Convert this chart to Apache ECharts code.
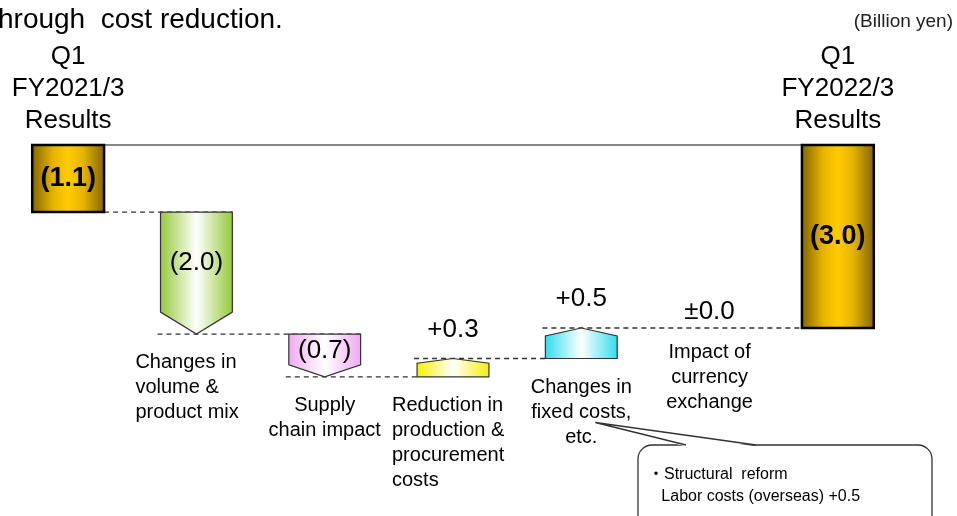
<!DOCTYPE html>
<html><head><meta charset="utf-8">
<script src="https://cdn.jsdelivr.net/npm/echarts/dist/echarts.min.js"></script>
<style>html,body{margin:0;padding:0;background:#fff;overflow:hidden}#c{width:957px;height:516px}</style>
</head><body><div id="c"></div>
<script>
// ---- data ----
const categories = ['Q1\nFY2021/3\nResults', 'Changes in\nvolume &\nproduct mix', 'Supply\nchain impact',
  'Reduction in\nproduction &\nprocurement\ncosts', 'Changes in\nfixed costs,\netc.',
  'Impact of\ncurrency\nexchange', 'Q1\nFY2022/3\nResults'];
const values = [-1.1, -2.0, -0.7, 0.3, 0.5, 0.0, -3.0];
const kinds = ['total', 'delta', 'delta', 'delta', 'delta', 'delta', 'total'];
const valueLabels = ['(1.1)', '(2.0)', '(0.7)', '+0.3', '+0.5', '\u00b10.0', '(3.0)'];
const titleText = 'hrough  cost reduction.';
const unitText = '(Billion yen)';
const noteLines = ['\u30fbStructural  reform', '   Labor costs (overseas) +0.5'];

// ---- styles (not data) ----
const FONT = "'Liberation Sans', Arial, 'Noto Sans CJK JP', sans-serif";
function hgrad(edge, mid) {
  return { type: 'linear', x: 0, y: 0, x2: 1, y2: 0,
    colorStops: [{offset: 0, color: edge}, {offset: 0.5, color: mid}, {offset: 1, color: edge}] };
}
const goldFill = { type: 'linear', x: 0, y: 0, x2: 1, y2: 0, colorStops: [
  {offset: 0, color: '#806200'}, {offset: 0.3, color: '#e6b400'}, {offset: 0.5, color: '#ffcc00'},
  {offset: 0.7, color: '#e6b400'}, {offset: 1, color: '#806200'}] };
const deltaFills = [null, hgrad('#95c83a', '#ffffff'), hgrad('#f0a8f0', '#ffffff'),
  hgrad('#f5f000', '#ffffff'), hgrad('#30dcec', '#ffffff'), null, null];
const leftAligned = { 1: true, 3: true };

// running waterfall start / end
let run = 0;
const wf = values.map((v, i) => {
  let s, e;
  if (kinds[i] === 'total') { s = 0; e = v; } else { s = run; e = run + v; }
  run = e;
  return [i, s, e];
});

const chart = echarts.init(document.getElementById('c'), null, { renderer: 'canvas' });

function renderItem(params, api) {
  const i = api.value(0), s = api.value(1), e = api.value(2);
  const pS = api.coord([i, s]), pE = api.coord([i, e]);
  const cx = pS[0];
  const band = api.size([1, 0])[0];
  const bw = band * 0.56;
  const x0 = cx - bw / 2, x1 = cx + bw / 2;
  const top = Math.min(pS[1], pE[1]), bot = Math.max(pS[1], pE[1]);
  const len = bot - top;
  const ch = [];
  const n = wf.length;
  // connectors
  if (i === 0) {
    const z0 = api.coord([0, 0]);
    const lastL = api.coord([n - 1, 0])[0] - bw / 2;
    ch.push({ type: 'line', shape: { x1: x0, y1: z0[1], x2: lastL, y2: z0[1] },
      style: { stroke: '#111', lineWidth: 1.2 } });
  }
  if (i < n - 1) {
    let j = i + 1;
    while (j < n - 1 && Math.abs(values[j]) < 1e-9) j++;
    const pn = api.coord([j, e]);
    const nL = pn[0] - bw / 2, nR = pn[0] + bw / 2;
    if (!(kinds[i] === 'delta' && Math.abs(values[i]) < 1e-9)) {
      const sx = kinds[i] === 'total' ? x1 : x0 - 3;
      const ex = (kinds[j] === 'delta' && values[j] < 0) ? nR : nL;
      ch.push({ type: 'line', shape: { x1: sx, y1: pE[1], x2: ex, y2: pE[1] },
        style: { stroke: '#333', lineWidth: 1.3, lineDash: [5, 4] } });
    }
  }
  // shapes & value labels
  if (kinds[i] === 'total') {
    ch.push({ type: 'rect', shape: { x: x0, y: top, width: bw, height: len },
      style: { fill: goldFill, stroke: '#000', lineWidth: 2.5 } });
    ch.push({ type: 'text', style: { text: valueLabels[i], x: cx, y: (top + bot) / 2,
      align: 'center', verticalAlign: 'middle', font: 'bold 27px ' + FONT, fill: '#000' } });
    ch.push({ type: 'text', style: { text: categories[i], x: cx, y: api.coord([i, 0])[1] - 8,
      align: 'center', verticalAlign: 'bottom', font: '26px ' + FONT, lineHeight: 32, fill: '#000' } });
  } else {
    let lowEnd = bot;
    if (Math.abs(values[i]) < 1e-9) {
      ch.push({ type: 'text', style: { text: valueLabels[i], x: cx, y: pS[1] - 16,
        align: 'center', verticalAlign: 'middle', font: '26px ' + FONT, fill: '#000' } });
      lowEnd = pS[1] - 4;
    } else if (values[i] < 0) {
      const head = Math.min(22, len * 0.28);
      ch.push({ type: 'polygon', shape: { points: [[x0, top], [x1, top], [x1, bot - head], [cx, bot], [x0, bot - head]] },
        style: { fill: deltaFills[i], stroke: '#333', lineWidth: 1.2 } });
      ch.push({ type: 'text', style: { text: valueLabels[i], x: cx, y: (top + bot - head) / 2 + 1,
        align: 'center', verticalAlign: 'middle', font: '26px ' + FONT, fill: '#000' } });
    } else {
      const head = Math.min(22, len * 0.26);
      ch.push({ type: 'polygon', shape: { points: [[x0, bot], [x1, bot], [x1, top + head], [cx, top], [x0, top + head]] },
        style: { fill: deltaFills[i], stroke: '#333', lineWidth: 1.2 } });
      ch.push({ type: 'text', style: { text: valueLabels[i], x: cx, y: top - 29,
        align: 'center', verticalAlign: 'middle', font: '26px ' + FONT, fill: '#000' } });
    }
    const left = !!leftAligned[i];
    ch.push({ type: 'text', style: { text: categories[i], x: left ? cx - 61 : cx, y: lowEnd + 16,
      align: left ? 'left' : 'center', verticalAlign: 'top', font: '20px ' + FONT, lineHeight: 25, fill: '#000' } });
  }
  return { type: 'group', children: ch };
}

chart.setOption({
  animation: false,
  backgroundColor: '#ffffff',
  grid: { left: 4, right: 55, top: 145, bottom: 127 },
  xAxis: { type: 'category', data: categories, show: false, boundaryGap: true },
  yAxis: { type: 'value', min: -4, max: 0, interval: 1, show: false, splitLine: { show: false } },
  series: [{ type: 'custom', clip: false, renderItem: renderItem, data: wf }]
});

// annotation callout attached to the "fixed costs" label
const idx = 4;
const pc = chart.convertToPixel({ xAxisIndex: 0, yAxisIndex: 0 }, [idx, Math.min(wf[idx][1], wf[idx][2])]);
const tip = [pc[0] + 14, pc[1] + 64];
const bx = 638, by = 445, bwid = 294, bh = 95;
chart.setOption({
  graphic: [
    { type: 'text', left: -2, top: 6, style: { text: titleText, font: '28px ' + FONT, fill: '#000' } },
    { type: 'text', right: 4, top: 12, style: { text: unitText, font: '19px ' + FONT, fill: '#222' } },
    { type: 'rect', shape: { x: bx, y: by, width: bwid, height: bh, r: 14 }, style: { fill: '#fff', stroke: '#333', lineWidth: 1.3 } },
    { type: 'polygon', shape: { points: [tip, [bx + 48, by + 1.5], [bx + 118, by + 1.5]] }, style: { fill: '#fff' } },
    { type: 'polyline', shape: { points: [[bx + 48, by], tip, [bx + 118, by]] }, style: { stroke: '#333', lineWidth: 1.3, fill: null } },
    { type: 'text', x: bx + 10, y: by + 19, style: { text: noteLines.join('\n'), font: '16px ' + FONT, lineHeight: 22, fill: '#000' } }
  ]
});
</script>
</body></html>
